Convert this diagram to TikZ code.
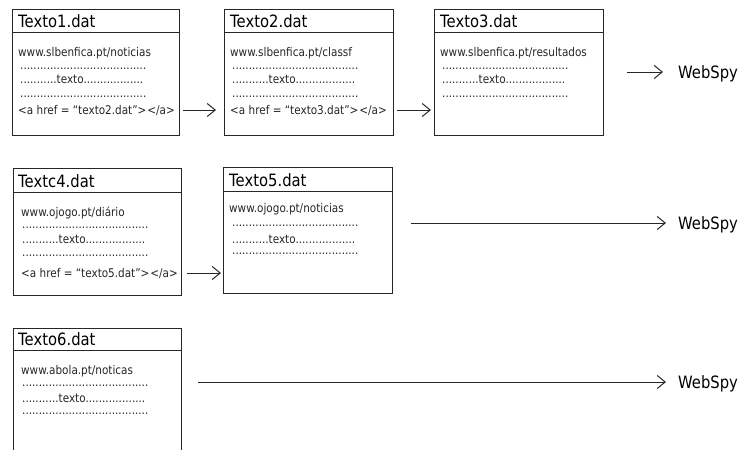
\documentclass[tikz,border=0pt]{standalone}
\usepackage{fontspec}
\setmainfont[FakeStretch=0.87]{DejaVu Sans}
\usetikzlibrary{arrows.meta,calc}
\begin{document}
\begin{tikzpicture}[x=1pt,y=-1pt,
  frame/.style={draw=black!85, line width=1pt},
  filebox/.style={frame, inner sep=0pt, outer sep=0pt, anchor=north west},
  ttl/.style={anchor=base west, inner sep=0pt, font=\fontsize{17}{17}\selectfont, text=black},
  body/.style={anchor=base west, inner sep=0pt, font=\fontsize{12}{12}\selectfont, text=black!85},
  spy/.style={anchor=base west, inner sep=0pt, font=\fontsize{17}{17}\selectfont, text=black},
  link/.style={draw=black!85, line width=1pt, -{Straight Barb[length=8pt,width=13pt,line width=1pt]}}]
\useasboundingbox (0,0) rectangle (745,450);
\def\dotrow{......................................}
\def\txtrow{...........texto..................}
% ---------- Row 1 ----------
\node[filebox, minimum width=167pt, minimum height=126pt] (b1) at (12,9) {};
\draw[frame] ($(b1.north west)+(0,23)$) -- ($(b1.north east)+(0,23)$);
\node[ttl]  (t1)  at (18,27)  {Texto1.dat};
\node[body] (u1)  at (18,56)  {www.slbenfica.pt/noticias};
\node[body] (d1a) at (20,69)  {\dotrow};
\node[body] (d1b) at (20,83)  {\txtrow};
\node[body] (d1c) at (20,97)  {\dotrow};
\node[body] (h1)  at (18,114) {<a href = “texto2.dat”>\kern1pt</a>};

\node[filebox, minimum width=169pt, minimum height=126pt] (b2) at (224,9) {};
\draw[frame] ($(b2.north west)+(0,23)$) -- ($(b2.north east)+(0,23)$);
\node[ttl]  (t2)  at (230,27)  {Texto2.dat};
\node[body] (u2)  at (230,56)  {www.slbenfica.pt/classf};
\node[body] (d2a) at (232,69)  {\dotrow};
\node[body] (d2b) at (232,83)  {\txtrow};
\node[body] (d2c) at (232,97)  {\dotrow};
\node[body] (h2)  at (230,114) {<a href = “texto3.dat”>\kern1pt</a>};

\node[filebox, minimum width=169pt, minimum height=126pt] (b3) at (434,9) {};
\draw[frame] ($(b3.north west)+(0,23)$) -- ($(b3.north east)+(0,23)$);
\node[ttl]  (t3)  at (440,27) {Texto3.dat};
\node[body] (u3)  at (440,56) {www.slbenfica.pt/resultados};
\node[body] (d3a) at (442,69) {\dotrow};
\node[body] (d3b) at (442,83) {\txtrow};
\node[body] (d3c) at (442,97) {\dotrow};

\node[spy] (w1) at (678,78) {WebSpy};
\coordinate (a1s) at (183,110); \coordinate (a1e) at (216,110);
\coordinate (a2s) at (397,110); \coordinate (a2e) at (431,110);
\coordinate (a3s) at (627,72);  \coordinate (a3e) at (663,72);
\draw[link] (a1s) -- (a1e);
\draw[link] (a2s) -- (a2e);
\draw[link] (a3s) -- (a3e);
% ---------- Row 2 ----------
\node[filebox, minimum width=168pt, minimum height=127pt] (b4) at (13,168) {};
\draw[frame] ($(b4.north west)+(0,24)$) -- ($(b4.north east)+(0,24)$);
\node[ttl]  (t4)  at (18,187)  {Textc4.dat};
\node[body] (u4)  at (21,216)  {www.ojogo.pt/diário};
\node[body] (d4a) at (22,228)  {\dotrow};
\node[body] (d4b) at (22,243)  {\txtrow};
\node[body] (d4c) at (22,256)  {\dotrow};
\node[body] (h4)  at (21,277)  {<a href = “texto5.dat”>\kern1pt</a>};

\node[filebox, minimum width=169pt, minimum height=126pt] (b5) at (223,167) {};
\draw[frame] ($(b5.north west)+(0,24)$) -- ($(b5.north east)+(0,24)$);
\node[ttl]  (t5)  at (229,186) {Texto5.dat};
\node[body] (u5)  at (229,212) {www.ojogo.pt/noticias};
\node[body] (d5a) at (232,226) {\dotrow};
\node[body] (d5b) at (232,243) {\txtrow};
\node[body] (d5c) at (232,254) {\dotrow};

\node[spy] (w2) at (678,229) {WebSpy};
\coordinate (a4s) at (187,273); \coordinate (a4e) at (221,273);
\coordinate (a5s) at (411,223); \coordinate (a5e) at (666,223);
\draw[link] (a4s) -- (a4e);
\draw[link] (a5s) -- (a5e);
% ---------- Row 3 ----------
\coordinate (b6bl) at (13,455);
\coordinate (b6tl) at (13,328);
\coordinate (b6tr) at (181,328);
\coordinate (b6br) at (181,455);
\draw[frame] (b6bl) -- (b6tl) -- (b6tr) -- (b6br);
\draw[frame] ($(b6tl)+(0,22)$) -- ($(b6tr)+(0,22)$);
\node[ttl]  (t6)  at (18,345)  {Texto6.dat};
\node[body] (u6)  at (21,374)  {www.abola.pt/noticas};
\node[body] (d6a) at (22,386)  {\dotrow};
\node[body] (d6b) at (22,402)  {\txtrow};
\node[body] (d6c) at (22,414)  {\dotrow};

\node[spy] (w3) at (678,388) {WebSpy};
\coordinate (a6s) at (198,382); \coordinate (a6e) at (666,382);
\draw[link] (a6s) -- (a6e);
\end{tikzpicture}
\end{document}
